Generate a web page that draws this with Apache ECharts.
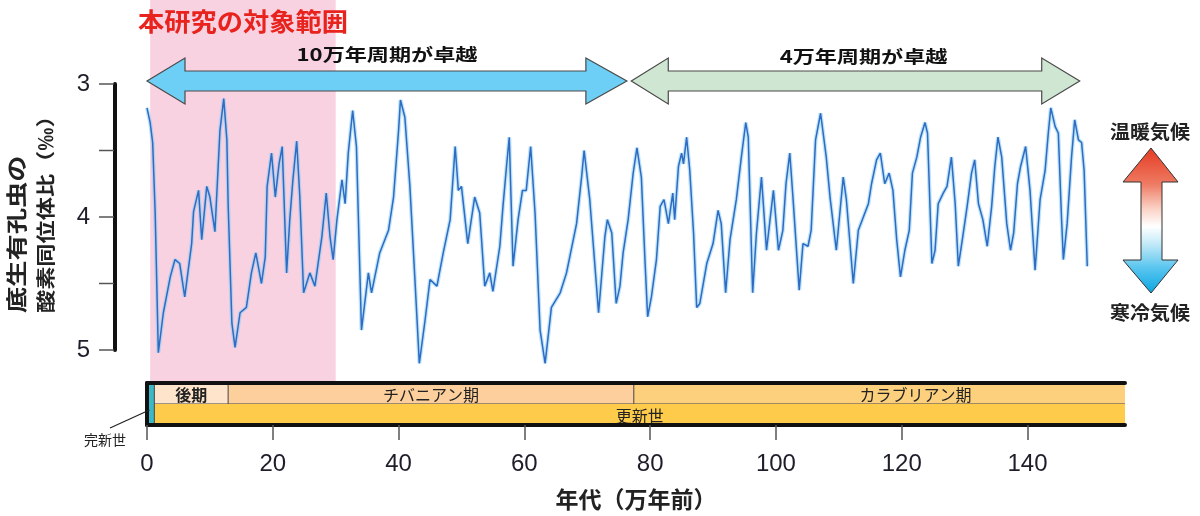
<!DOCTYPE html>
<html><head><meta charset="utf-8">
<script src="https://cdn.jsdelivr.net/npm/echarts@6/dist/echarts.min.js"></script>
<style>html,body{margin:0;padding:0;background:#fff}#c{width:1200px;height:516px}</style>
</head><body><div id="c"></div>
<script>
// ---- data (age in 万年前, benthic δ18O in ‰) ----
const ages = [0,0.5,0.9,1.3,1.8,2.6,3.7,4.45,5.2,6.0,7.1,7.4,8.2,8.7,9.5,10,10.8,11.6,12.2,12.7,12.9,13.5,14,14.8,15.8,16.6,17.3,18.2,18.8,19.1,19.8,20.4,21,21.5,22.2,22.7,23.2,23.8,24.3,24.9,25.9,26.7,27.8,28.5,29.1,29.6,30.2,31,31.5,32,32.7,33.3,34.1,35.2,35.7,37,38.4,39.2,40,40.3,41,41.8,42.6,43.3,44.2,45,46.1,47.1,48.2,49,49.5,50,51,52.1,52.9,53.7,54.5,55,56.1,56.6,57.2,57.6,58.2,59,59.7,60.3,61,61.7,62.5,63.3,64.3,65.7,66.7,68.3,69.1,69.5,70.4,71.8,72.8,73.2,73.9,74.6,75.2,75.7,76.5,77.3,77.9,78.6,79.2,79.6,80.2,81,81.6,82.2,82.9,83.6,83.9,84.5,85,85.3,85.8,86.3,86.9,87.4,87.9,89,90,90.8,91.3,92,92.7,93.7,94.5,95.2,95.6,96.3,96.9,97.7,98.5,99.6,100.4,101.1,101.6,102.2,102.7,103.7,104.3,105.1,105.6,106.3,107.1,108,108.6,109.6,110.7,111.2,112.3,113.1,113.9,114.7,115.2,116,116.6,117.3,118,118.6,119.2,119.8,120.5,121.2,121.7,122.4,123,123.7,124.1,124.8,125.3,125.8,126.6,127.2,127.9,128.5,129,129.7,130.4,131.1,131.6,132.2,132.9,133.6,134.3,134.8,135.3,135.9,136.7,137.3,137.8,138.4,138.9,139.7,140.4,141.2,142,142.8,143.3,143.7,144.4,144.9,145.4,145.7,146.3,147,147.5,148.1,148.6,149,149.5];
const d18O = [3.18,3.29,3.44,3.97,5.02,4.72,4.45,4.32,4.35,4.6,4.2,3.96,3.8,4.17,3.77,3.85,4.11,3.35,3.11,3.42,3.9,4.8,4.98,4.72,4.68,4.42,4.27,4.5,4.3,3.77,3.52,3.85,3.6,3.47,4.42,4.02,3.72,3.43,3.85,4.57,4.42,4.52,4.15,3.82,4.15,4.32,4.02,3.72,3.9,3.52,3.2,3.47,4.85,4.42,4.57,4.27,4.1,3.85,3.35,3.12,3.25,3.77,4.47,5.1,4.78,4.47,4.52,4.27,4.02,3.47,3.8,3.77,4.2,3.85,3.97,4.52,4.42,4.56,4.22,3.92,3.6,3.4,4.37,4.02,3.8,3.8,3.47,3.97,4.85,5.1,4.68,4.57,4.42,4.05,3.7,3.5,3.87,4.72,4.15,4.02,4.12,4.65,4.52,4.27,4.02,3.67,3.48,3.7,4.35,4.75,4.6,4.32,3.92,3.87,4.05,3.82,4.02,3.62,3.52,3.6,3.4,3.65,4.12,4.68,4.65,4.35,4.2,3.95,4.05,4.57,4.17,3.87,3.55,3.29,3.4,4.57,4.12,3.7,4.25,3.8,4.25,4.1,3.75,3.52,3.85,4.55,4.2,4.22,4.1,3.42,3.22,3.55,3.85,4.25,3.7,3.87,4.5,4.1,4.0,3.9,3.75,3.57,3.52,3.75,3.67,3.8,4.17,4.45,4.25,4.1,3.67,3.55,3.4,3.29,3.37,4.35,4.25,3.9,3.82,3.77,3.55,3.9,4.37,4.15,3.92,3.67,3.57,3.9,4.02,4.22,3.92,3.62,3.4,3.55,4.05,4.25,4.12,3.75,3.62,3.47,3.8,4.4,3.87,3.65,3.37,3.18,3.32,3.37,4.0,4.32,4.05,3.55,3.27,3.42,3.44,3.65,4.37];
const xTicks = [0,20,40,60,80,100,120,140];
const yTicks = [3,3.5,4,4.5,5];
const yLabels = [3,4,5];
const studyRange = [0.5, 30];          // 本研究の対象範囲
const cycle100k = [0, 76.3];           // 10万年周期が卓越
const cycle41k = [77, 148.3];          // 4万年周期が卓越
// geologic time scale units (万年前)
const unitNames  = ['完新世','後期','チバニアン期','カラブリアン期','更新世'];
const unitStarts = [0, 1.17, 12.9, 77.4, 1.17];
const unitEnds   = [1.17, 12.9, 77.4, 180, 258];
const unitRowLo  = [0, 1, 1, 1, 0];
const unitRowHi  = [2, 2, 2, 2, 1];

// ---- styles ----
const unitColors = {'完新世':'#3db8c6','後期':'#fde4ca','チバニアン期':'#fccf9c','カラブリアン期':'#fdd07e','更新世':'#fecb4a'};
const unitBold = {'後期':true};
const unitLabelAnchor = {'カラブリアン期':122.2};
const JP = '"Noto Sans CJK JP","Noto Sans",sans-serif';
const NUM = '"Liberation Sans",Arial,sans-serif';
const X_MAX = 155.5;
const Y_MIN = 3, Y_MAX = 5;

const chart = echarts.init(document.getElementById('c'));
const curve = ages.map((a,i)=>[a,d18O[i]]);
const unitData = unitNames.map((n,i)=>[unitStarts[i],unitEnds[i],unitRowLo[i],unitRowHi[i]]);

chart.setOption({
  animation:false,
  textStyle:{fontFamily:JP},
  grid:[
    {left:147,right:75,top:84,height:266},   // curve
    {left:147,right:75,top:0,height:381},    // study-range band
    {left:147,right:75,top:383,height:42},   // time scale bar
    {left:115,width:20,top:84,height:266}    // y-axis display
  ],
  xAxis:[
    {gridIndex:0,type:'value',min:0,max:X_MAX,show:false},
    {gridIndex:1,type:'value',min:0,max:X_MAX,show:false},
    {gridIndex:2,type:'value',min:0,max:X_MAX,position:'bottom',z:10,
      axisLine:{show:true,onZero:false,lineStyle:{color:'#111',width:4}},
      axisTick:{show:true,length:15,customValues:xTicks,lineStyle:{color:'#555',width:1.5}},
      axisLabel:{customValues:xTicks,margin:27,fontSize:24,color:'#1e1e2a',fontFamily:NUM},
      splitLine:{show:false},
      name:'年代（万年前）',nameLocation:'middle',nameGap:63,
      nameTextStyle:{fontSize:23,fontWeight:'bold',color:'#222',fontFamily:JP}},
    {gridIndex:2,type:'value',min:0,max:X_MAX,position:'top',z:10,
      axisLine:{show:true,onZero:false,lineStyle:{color:'#111',width:4}},axisTick:{show:false},axisLabel:{show:false},splitLine:{show:false}},
    {gridIndex:3,type:'value',min:0,max:1,show:false}
  ],
  yAxis:[
    {gridIndex:0,type:'value',min:Y_MIN,max:Y_MAX,inverse:true,show:false},
    {gridIndex:1,type:'value',min:0,max:1,show:false},
    {gridIndex:2,type:'value',min:0,max:2,z:10,position:'left',
      axisLine:{show:true,onZero:false,lineStyle:{color:'#111',width:4}},axisTick:{show:false},axisLabel:{show:false},splitLine:{show:false}},
    {gridIndex:3,type:'value',min:Y_MIN,max:Y_MAX,inverse:true,position:'left',z:10,
      axisLine:{show:true,onZero:false,lineStyle:{color:'#111',width:4}},
      axisTick:{show:false},
      axisLabel:{customValues:yLabels,margin:25,fontSize:24,color:'#1e1e2a',fontFamily:NUM},
      splitLine:{show:false}}
  ],
  series:[
    {type:'custom',xAxisIndex:1,yAxisIndex:1,z:0,silent:true,data:[studyRange],
      renderItem:function(params,api){
        const a=api.coord([api.value(0),1]), b=api.coord([api.value(1),0]);
        return {type:'rect',shape:{x:a[0],y:a[1],width:b[0]-a[0],height:b[1]-a[1]},style:{fill:'#f9d2e2'}};
      }},
    {type:'line',xAxisIndex:0,yAxisIndex:0,data:curve,showSymbol:false,clip:false,z:3,silent:true,
      lineStyle:{color:'#7fcaf3',width:4,opacity:0.5}},
    {type:'line',xAxisIndex:0,yAxisIndex:0,data:curve,showSymbol:false,clip:false,z:4,silent:true,
      lineStyle:{color:'#2e6bc2',width:1.5}},
    {type:'custom',xAxisIndex:2,yAxisIndex:2,z:2,silent:true,data:unitData,
      renderItem:function(params,api){
        const i=params.dataIndex, name=unitNames[i];
        const a=api.coord([api.value(0),api.value(3)]), b=api.coord([api.value(1),api.value(2)]);
        const cs=params.coordSys;
        const r=echarts.graphic.clipRectByRect({x:a[0],y:a[1],width:b[0]-a[0],height:b[1]-a[1]},{x:cs.x,y:cs.y,width:cs.width,height:cs.height});
        if(!r) return null;
        const ch=[
          {type:'rect',shape:r,style:{fill:unitColors[name]}},
          {type:'line',shape:{x1:r.x,y1:r.y,x2:r.x,y2:r.y+r.height},style:{stroke:'#444',lineWidth:1}},
          {type:'line',shape:{x1:r.x,y1:r.y+r.height,x2:r.x+r.width,y2:r.y+r.height},style:{stroke:'#444',lineWidth:1}}
        ];
        if(name!=='完新世'){
          let lx=r.x+r.width/2;
          if(unitLabelAnchor[name]!==undefined) lx=api.coord([unitLabelAnchor[name],0])[0];
          ch.push({type:'text',x:lx,y:r.y+r.height/2+1,style:{text:name,align:'center',verticalAlign:'middle',
            fontSize:16,fontWeight:unitBold[name]?'bold':'normal',fill:'#222',fontFamily:JP}});
        }
        return {type:'group',children:ch};
      }}
  ]
});

const px = v => chart.convertToPixel({xAxisIndex:0}, v);
const yAxisX = chart.convertToPixel({xAxisIndex:4}, 0);
const py = v => chart.convertToPixel({yAxisIndex:3}, v);
function hArrow(x0,x1,yc,sh,hh,hl0,hl1){
  return [[x0,yc],[x0+hl0,yc-hh],[x0+hl0,yc-sh],[x1-hl1,yc-sh],[x1-hl1,yc-hh],[x1,yc],[x1-hl1,yc+hh],[x1-hl1,yc+sh],[x0+hl0,yc+sh],[x0+hl0,yc+hh]];
}
const b0=px(cycle100k[0]), b1=px(cycle100k[1]), g0=px(cycle41k[0]), g1=px(cycle41k[1]);
const grad = new echarts.graphic.LinearGradient(0,0,0,1,[
  {offset:0,color:'#e53b22'},{offset:0.25,color:'#ee7a62'},{offset:0.42,color:'#fbd2c6'},
  {offset:0.54,color:'#ffffff'},{offset:0.66,color:'#c3eaf8'},{offset:0.82,color:'#5cc6ef'},{offset:1,color:'#0aa6e2'}]);
const yTickGraphics = yTicks.map(v=>({type:'line',z:22,shape:{x1:yAxisX-16,y1:py(v),x2:yAxisX-1,y2:py(v)},style:{stroke:'#555',lineWidth:1.5}}));
chart.setOption({graphic:yTickGraphics.concat([
  {type:'polygon',z:20,shape:{points:hArrow(b0,b1,81,10,23,38,41)},style:{fill:'#6dcff6',stroke:'#4a4a4a',lineWidth:1.2}},
  {type:'polygon',z:20,shape:{points:hArrow(g0,g1,81,10,23,37,38)},style:{fill:'#cfe6d3',stroke:'#4a4a4a',lineWidth:1.2}},
  {type:'text',z:21,x:(b0+b1)/2,y:55,scaleX:1.3,style:{text:'10万年周期が卓越',align:'center',verticalAlign:'middle',fontSize:17,fontWeight:'bold',fill:'#111',fontFamily:JP}},
  {type:'text',z:21,x:(g0+g1)/2+8,y:57,scaleX:1.3,style:{text:'4万年周期が卓越',align:'center',verticalAlign:'middle',fontSize:17,fontWeight:'bold',fill:'#111',fontFamily:JP}},
  {type:'text',z:21,x:(px(studyRange[0])+px(studyRange[1]))/2,y:21,scaleX:1.05,style:{text:'本研究の対象範囲',align:'center',verticalAlign:'middle',fontSize:25,fontWeight:'bold',fill:'#e8221c',fontFamily:JP}},
  {type:'text',z:21,x:16,y:313,rotation:Math.PI/2,scaleX:1.25,style:{text:'底生有孔虫の',align:'left',verticalAlign:'middle',fontSize:21,fontWeight:'bold',fill:'#222',fontFamily:JP}},
  {type:'text',z:21,x:46,y:313,rotation:Math.PI/2,scaleX:1.22,style:{text:'酸素同位体比（‰）',align:'left',verticalAlign:'middle',fontSize:19,fontWeight:'bold',fill:'#222',fontFamily:JP}},
  {type:'polygon',z:20,shape:{points:[[1151,148],[1178,182],[1162,182],[1162,260],[1178,260],[1151,293],[1123,260],[1141,260],[1141,182],[1123,182]]},style:{fill:grad,stroke:'#333',lineWidth:1}},
  {type:'text',z:21,x:1150,y:132,scaleX:1.05,style:{text:'温暖気候',align:'center',verticalAlign:'middle',fontSize:19,fontWeight:'bold',fill:'#222',fontFamily:JP}},
  {type:'text',z:21,x:1150,y:313,scaleX:1.05,style:{text:'寒冷気候',align:'center',verticalAlign:'middle',fontSize:19,fontWeight:'bold',fill:'#222',fontFamily:JP}},
  {type:'line',z:21,shape:{x1:110,y1:428,x2:px(0.4),y2:410},style:{stroke:'#222',lineWidth:1.2}},
  {type:'text',z:21,x:105,y:440,style:{text:'完新世',align:'center',verticalAlign:'middle',fontSize:14,fill:'#222',fontFamily:JP}}
])});
</script></body></html>
